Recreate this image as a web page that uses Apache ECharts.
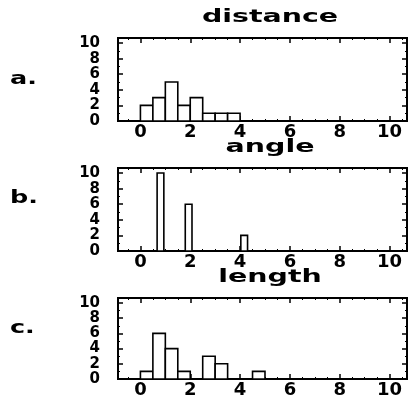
<!DOCTYPE html>
<html>
<head>
<meta charset="utf-8">
<script src="https://cdn.jsdelivr.net/npm/echarts@6/dist/echarts.min.js"></script>
<style>
  html, body { margin: 0; padding: 0; background: #fff; }
  #main { width: 410px; height: 399px; }
</style>
</head>
<body>
<div id="main"></div>
<script>
// panel titles and tags
const panelNames = ['distance', 'angle', 'length'];
const panelTags = ['a.', 'b.', 'c.'];

// tick labels
const xTicks = [0, 2, 4, 6, 8, 10];
const xMinor = [-0.5, 0.5, 1, 1.5, 2.5, 3, 3.5, 4.5, 5, 5.5, 6.5, 7, 7.5, 8.5, 9, 9.5, 10.5];
const yStep = 2; // y labels 0, 2, ... 10

// histogram bins: left edge, count, width
const distanceStarts = [0, 0.5, 1, 1.5, 2, 2.5, 3, 3.5];
const distanceCounts = [2, 3, 5, 2, 3, 1, 1, 1];
const distanceWidth = 0.5;

const angleStarts = [0.67, 1.8, 4.03];
const angleCounts = [10, 6, 2];
const angleWidth = 0.27;

const lengthStarts = [0, 0.5, 1, 1.5, 2.5, 3, 4.5];
const lengthCounts = [1, 6, 4, 1, 3, 2, 1];
const lengthWidth = 0.5;

const panels = [
  { starts: distanceStarts, counts: distanceCounts, width: distanceWidth },
  { starts: angleStarts, counts: angleCounts, width: angleWidth },
  { starts: lengthStarts, counts: lengthCounts, width: lengthWidth },
];

const FONT = 'DejaVu Sans';
const gridTops = [38, 168, 298];
const gridH = 83;

const chart = echarts.init(document.getElementById('main'));

const grid = [], xAxis = [], yAxis = [], series = [], graphic = [];

panels.forEach((p, i) => {
  grid.push({
    left: 118, right: 3, top: gridTops[i], height: gridH,
    show: true, borderColor: '#000', borderWidth: 2, backgroundColor: 'transparent',
  });
  const xBase = { type: 'value', gridIndex: i, min: -0.9, max: 10.7, splitLine: { show: false }, axisLine: { show: false, onZero: false } };
  const yBase = {
    type: 'value', gridIndex: i, min: 0, max: 10.65, interval: yStep,
    splitLine: { show: false }, axisLine: { show: false, onZero: false },
    axisTick: { inside: true, length: 5, lineStyle: { color: '#000', width: 1.5 } },
    minorTick: { show: true, splitNumber: 2, length: 2, lineStyle: { color: '#000', width: 1 } },
  };
  // bottom axis with labels
  xAxis.push(Object.assign({}, xBase, {
    position: 'bottom',
    axisTick: { inside: true, length: 5, customValues: xTicks, lineStyle: { color: '#000', width: 1.5 } },
    axisLabel: { customValues: xTicks, showMinLabel: true, showMaxLabel: true, color: '#000', fontFamily: FONT, fontWeight: 'bold', fontSize: 18, margin: 2 },
  }));
  // top axis, ticks only
  xAxis.push(Object.assign({}, xBase, {
    position: 'top',
    axisTick: { inside: true, length: 5, customValues: xTicks, lineStyle: { color: '#000', width: 1.5 } },
    axisLabel: { show: false },
  }));
  // minor ticks bottom / top
  ['bottom', 'top'].forEach(pos => xAxis.push(Object.assign({}, xBase, {
    position: pos,
    axisTick: { inside: true, length: 2, customValues: xMinor, lineStyle: { color: '#000', width: 1 } },
    axisLabel: { show: false },
  })));
  // left axis with labels, right axis ticks only
  yAxis.push(Object.assign({}, yBase, {
    position: 'left',
    axisLabel: { showMinLabel: true, showMaxLabel: false, hideOverlap: false, color: '#000', fontFamily: FONT, fontWeight: 'bold', fontSize: 15, margin: 18, lineHeight: 11 },
  }));
  yAxis.push(Object.assign({}, yBase, {
    position: 'right',
    axisLabel: { show: false },
  }));

  series.push({
    type: 'custom',
    xAxisIndex: i * 4,
    yAxisIndex: i * 2,
    encode: { x: 0, y: 1 },
    data: p.starts.map((s, k) => [s, p.counts[k], p.width]),
    renderItem: (params, api) => {
      const x0 = api.value(0), h = api.value(1), w = api.value(2);
      const a = api.coord([x0, 0]);
      const b = api.coord([x0 + w, h]);
      return {
        type: 'rect',
        shape: { x: a[0], y: b[1], width: b[0] - a[0], height: a[1] - b[1] },
        style: { fill: '#fff', stroke: '#000', lineWidth: 1.6 },
      };
    },
    silent: true,
    z: 1,
  });

  graphic.push({
    type: 'text', x: 270, y: gridTops[i] - 21, scaleX: 1.58,
    style: { text: panelNames[i], align: 'center', verticalAlign: 'middle',
      fontFamily: FONT, fontWeight: 'bold', fontSize: 18, fill: '#000' },
  });
  graphic.push({
    type: 'text', x: 10, y: gridTops[i] + [42, 31, 31][i], scaleX: 1.5,
    style: { text: panelTags[i], align: 'left', verticalAlign: 'middle',
      fontFamily: FONT, fontWeight: 'bold', fontSize: 17, fill: '#000' },
  });
});

chart.setOption({
  animation: false,
  backgroundColor: '#fff',
  grid, xAxis, yAxis, series, graphic,
});
</script>
</body>
</html>
